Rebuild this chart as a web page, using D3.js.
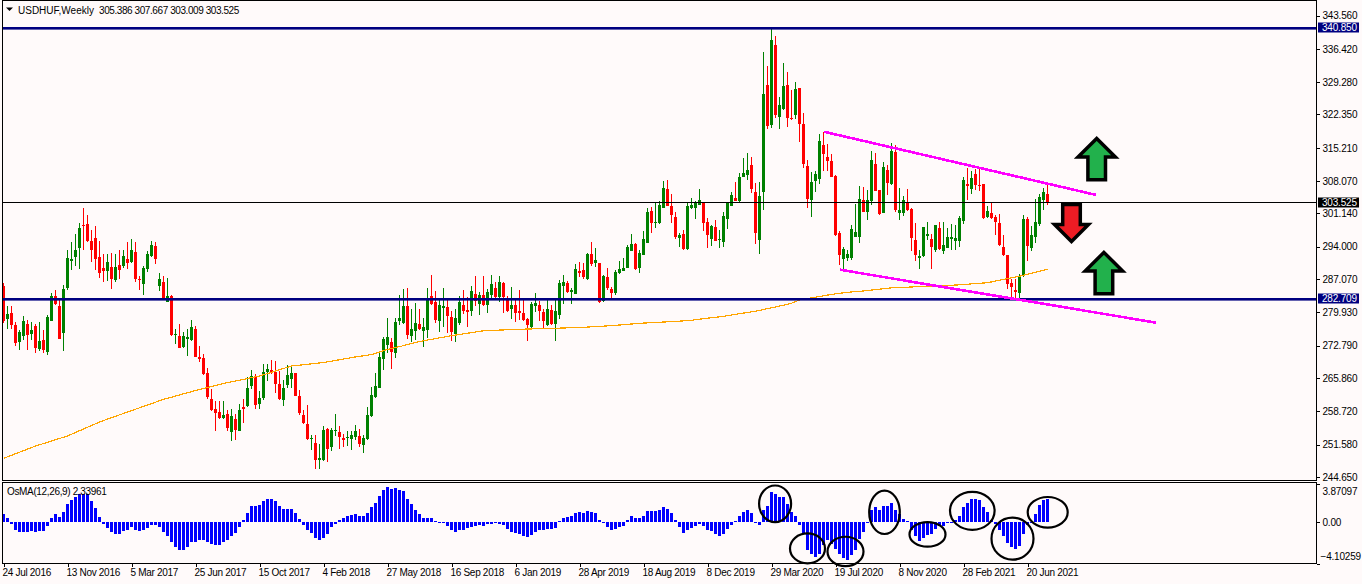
<!DOCTYPE html>
<html><head><meta charset="utf-8">
<script src="https://cdn.jsdelivr.net/npm/d3@7/dist/d3.min.js"></script>
<style>
html,body{margin:0;padding:0;background:#fffafa;overflow:hidden}
svg{display:block}
text{font-family:"Liberation Sans",sans-serif;font-size:10px;fill:#000}
</style></head><body>
<div id="chart"></div>
<script>
const symbolName = "USDHUF,Weekly";
const symbolValues = "305.386 307.667 303.009 303.525";
const osmaTitle = "OsMA(12,26,9) 2.33961";
const dateLabels = ["24 Jul 2016","13 Nov 2016","5 Mar 2017","25 Jun 2017","15 Oct 2017","4 Feb 2018","27 May 2018","16 Sep 2018","6 Jan 2019","28 Apr 2019","18 Aug 2019","8 Dec 2019","29 Mar 2020","19 Jul 2020","8 Nov 2020","28 Feb 2021","20 Jun 2021"];
const barsPerLabel = 16;
const priceTicks = [343.56,336.42,329.28,322.35,315.21,308.07,301.14,294,287.07,279.93,272.79,265.86,258.72,251.58,244.65];
const osmaTicks = [3.87097,0,-4.10259];
const levels = [340.85,282.709];
const lastPrice = 303.525;

const opens = [285.6,278.5,279.8,277.2,273.6,274.9,277.4,275.3,277.0,272.1,274.0,271.4,278.1,283.4,281.3,275.5,285.2,290.9,291.8,293.7,
298.7,298.9,295.2,295.9,291.8,289.4,288.8,289.7,286.9,290.1,289.9,291.4,290.7,292.9,287.1,286.0,289.2,292.0,294.2,285.6,
286.4,282.2,283.4,275.2,274.9,272.5,274.2,274.0,276.4,270.4,270.2,266.9,261.4,259.2,258.6,257.3,258.2,254.3,257.1,254.5,
259.7,259.9,264.2,266.3,260.3,261.6,267.2,267.6,267.2,264.6,261.2,264.4,265.7,266.9,262.0,257.9,256.0,252.8,251.9,248.3,
248.3,254.9,251.1,254.5,254.3,253.0,253.1,252.8,253.2,253.5,251.5,252.8,257.7,261.8,263.7,270.0,273.0,273.6,271.2,278.1,
277.7,281.3,274.9,276.0,277.4,276.0,276.2,283.5,282.2,278.1,280.9,281.1,279.0,275.3,277.7,281.5,280.5,280.2,283.9,281.7,
283.7,281.5,283.7,285.2,283.2,286.2,283.0,280.7,281.5,280.2,279.8,278.5,276.8,281.3,281.5,280.0,277.2,280.5,277.5,279.4,
285.6,286.2,284.3,283.9,288.8,289.0,287.1,292.5,290.5,290.5,282.4,287.5,285.0,284.1,288.4,288.8,289.4,293.1,294.6,289.4,
292.2,294.8,301.7,299.1,299.1,302.3,306.4,302.7,300.4,295.9,296.7,293.5,302.3,302.3,303.0,303.4,299.3,295.7,298.2,295.5,
295.0,300.0,302.7,304.5,303.8,309.0,309.4,311.5,305.7,295.5,305.7,328.7,320.1,337.2,321.8,323.5,328.7,321.6,322.2,328.0,
320.3,311.3,304.0,308.1,308.5,315.8,313.2,312.4,309.2,297.0,291.4,291.6,291.6,296.1,296.1,304.0,301.5,303.8,311.7,306.2,
301.2,310.5,307.5,314.3,301.2,301.2,303.6,302.1,295.5,291.6,292.0,296.3,295.7,293.3,298.0,293.1,293.7,295.7,295.2,295.2,
299.5,307.5,306.4,309.6,307.2,307.5,300.4,301.2,300.4,299.1,294.0,292.2,286.3,284.7,284.0,287.7,300.0,293.7,296.1,298.9,
304.0,305.386];
const highs = [286.2,281.3,281.3,277.9,276.2,279.2,278.3,277.8,277.4,277.9,276.2,279.4,284.2,284.7,282.6,285.8,293.3,295.0,296.7,299.1,
302.3,300.8,297.6,298.4,295.2,292.4,292.4,292.7,292.4,293.3,293.3,295.0,295.7,295.0,287.7,289.9,293.1,295.2,295.0,288.4,
287.7,287.3,283.7,276.4,277.4,275.7,276.4,278.3,277.0,272.7,271.0,268.0,263.5,260.9,260.9,260.9,259.0,259.2,258.2,260.3,
261.4,266.1,267.6,266.7,263.1,268.9,268.9,269.7,269.5,267.4,265.4,268.7,268.2,266.9,263.3,259.0,260.1,253.7,253.7,251.7,
255.6,255.2,255.2,258.2,255.6,253.9,254.5,254.5,255.8,255.0,253.7,259.7,264.0,267.0,271.5,274.6,278.7,274.4,278.7,283.7,
285.0,285.2,280.7,281.9,280.7,278.7,285.2,288.0,284.5,282.6,285.2,282.6,280.2,280.7,283.5,284.7,283.2,285.6,287.7,284.3,
287.7,285.0,288.0,286.5,287.7,286.5,283.5,285.4,283.0,284.7,282.6,278.7,282.2,284.1,282.4,280.7,282.6,281.5,282.6,286.9,
288.0,286.7,285.2,290.3,290.7,290.5,292.7,295.0,293.7,290.5,288.0,289.4,285.4,289.0,291.0,291.6,294.4,296.7,294.8,293.3,
297.4,302.3,302.5,303.6,303.8,308.1,308.3,305.3,301.5,297.0,297.6,303.6,304.5,303.8,306.4,303.6,300.2,298.7,299.7,297.6,
301.5,303.6,305.7,307.9,309.8,313.0,314.1,313.2,307.7,307.9,335.7,332.7,340.9,339.2,326.1,333.4,331.5,327.6,329.3,328.0,
322.7,312.6,310.0,310.2,318.2,318.5,316.0,313.9,309.4,297.4,294.0,293.3,298.7,303.2,307.0,306.8,306.2,314.5,314.1,306.2,
312.2,311.5,316.2,315.8,306.6,304.9,306.4,302.3,299.1,293.3,298.2,299.3,296.7,298.7,299.3,299.3,298.0,298.9,298.7,300.6,
309.0,310.9,310.2,310.7,310.7,307.5,302.7,303.6,300.8,301.0,296.5,292.2,287.2,287.1,288.2,300.8,300.3,298.5,304.2,305.3,
306.6,307.667];
const lows = [277.6,276.4,276.3,272.8,271.9,274.0,271.9,274.0,271.2,271.7,271.3,270.9,278.1,281.5,274.2,271.7,284.7,289.0,289.9,289.2,
293.3,295.0,290.7,289.0,287.3,286.4,286.7,284.9,286.4,287.1,289.4,289.2,290.5,286.4,284.7,283.7,288.6,291.8,290.3,284.5,
283.0,282.2,274.9,273.2,272.3,272.3,270.6,273.8,270.4,269.3,266.5,261.4,258.8,254.5,257.1,257.1,254.5,252.4,252.6,254.5,
256.2,259.7,263.5,259.2,259.2,261.2,265.2,266.7,262.7,261.2,259.9,263.7,263.7,262.0,257.9,256.0,252.6,250.4,246.4,246.4,
248.1,247.9,250.2,253.4,250.7,251.1,251.3,250.5,252.6,251.1,249.8,252.6,257.5,261.6,263.7,267.6,271.2,267.8,270.2,277.2,
277.5,274.2,273.6,274.0,276.2,272.5,274.4,281.5,277.7,275.7,276.8,275.5,273.8,273.6,277.2,279.6,276.8,279.2,281.3,279.4,
281.3,279.8,282.8,282.6,282.2,279.8,280.0,278.5,277.9,278.3,278.1,273.8,276.6,280.0,278.1,276.6,277.0,277.2,273.8,278.5,
281.7,284.0,281.7,283.9,287.5,287.1,286.9,289.9,289.7,281.9,282.2,284.7,283.0,283.7,288.2,288.8,289.4,293.1,289.0,288.4,
292.2,294.8,297.0,298.0,298.9,302.3,302.7,299.1,295.7,294.0,293.3,293.3,302.2,300.0,303.0,297.4,293.7,294.2,295.2,293.7,
293.9,297.8,302.7,303.8,303.6,309.0,308.3,305.5,294.6,292.5,301.9,319.2,319.5,321.6,319.2,323.3,319.7,321.2,321.4,316.5,
310.9,302.3,300.4,305.7,307.5,310.2,310.2,309.0,296.3,290.1,289.0,291.0,291.2,296.1,294.8,301.5,299.7,303.0,305.9,300.8,
301.2,305.1,307.2,301.5,299.7,300.6,301.7,293.1,291.0,289.2,291.8,295.5,289.2,292.9,293.3,292.5,293.7,293.3,293.3,293.9,
298.9,304.0,305.3,306.2,305.9,300.0,300.2,300.0,296.5,294.2,292.0,285.0,283.3,283.0,283.0,287.5,291.0,293.2,294.9,298.5,
301.9,303.009];
const closes = [278.1,279.7,277.2,273.4,275.7,278.1,275.1,276.2,272.3,273.8,271.9,278.9,283.4,281.7,274.2,284.9,291.6,291.4,293.3,298.0,
298.4,295.2,293.3,291.4,288.4,288.8,290.7,287.1,289.7,289.0,292.0,290.5,293.3,287.1,286.9,289.4,292.4,294.4,291.4,287.1,
283.0,283.4,275.1,275.3,272.3,274.9,274.7,276.8,270.4,270.0,266.7,261.8,259.0,258.4,257.3,257.9,255.2,257.7,254.7,259.0,
259.2,263.7,266.3,260.1,261.6,267.2,267.8,267.2,264.6,261.4,263.7,266.5,266.9,262.0,258.4,256.2,252.8,253.0,248.3,248.7,
254.7,250.7,254.7,254.7,253.2,252.6,253.2,253.7,254.5,251.7,253.0,258.0,262.2,264.2,270.4,274.2,274.7,271.5,277.9,278.7,
281.3,275.1,276.4,277.7,276.4,276.8,282.8,281.7,278.3,281.5,281.3,279.2,275.7,278.7,282.2,280.2,280.0,284.5,282.4,283.7,
281.5,284.3,286.0,283.2,286.5,283.2,280.2,281.5,279.8,279.8,278.3,277.2,281.7,282.0,280.2,278.1,280.7,277.5,280.2,286.2,
286.5,284.3,284.7,289.2,288.4,287.5,292.5,290.3,291.2,282.2,287.7,285.2,284.1,288.6,289.2,289.4,294.0,294.6,289.2,292.7,
295.7,301.4,299.1,299.3,303.0,306.6,302.7,300.8,296.1,296.5,293.5,302.7,303.0,303.6,304.0,299.1,296.5,298.5,295.2,295.7,
300.6,303.6,305.1,303.8,309.0,309.8,310.5,306.4,297.0,304.9,326.7,319.9,338.3,322.2,324.4,328.5,321.6,321.4,327.8,320.3,
311.7,304.2,307.9,309.6,316.7,313.9,312.4,309.0,296.5,292.2,293.5,292.4,297.8,297.2,304.2,301.5,304.0,312.6,305.9,301.0,
311.1,307.7,314.5,301.9,301.9,304.0,301.9,295.9,292.2,292.0,298.2,296.7,294.0,298.7,293.5,294.4,296.1,296.1,295.9,300.2,
308.3,307.0,308.7,307.2,307.0,300.2,301.7,300.2,299.3,294.4,292.2,286.0,285.4,284.3,287.5,300.0,294.2,296.5,299.3,304.7,
305.7,303.525];
const osmaValues = [.8,.4,-.2,-.8,-1,-1,-1,-.9,-1,-.9,-.9,-.4,.4,.8,.5,1,1.8,2.2,2.53,2.8,2.87,2.8,2.1,1.4,.5,-.2,-.6,-1,-1.2,-1.2,-.9,-.8,-.5,-.8,-.9,-.8,-.6,-.3,-.3,-.5,
-1,-1.4,-2,-2.5,-2.8,-2.8,-2.5,-2,-2,-1.8,-1.8,-2,-2.2,-2.3,-2.3,-2,-1.8,-1.4,-1.1,-.5,.2,.9,1.6,1.6,1.7,2.1,2.3,2.3,2.1,1.6,
1.3,1.3,1.3,.9,.3,-.3,-.8,-1.1,-1.6,-1.8,-1.6,-1.2,-.5,-.2,.2,.4,.6,.7,.8,.6,.6,.9,1.5,1.9,2.6,3.2,3.5,3.3,3.4,3.2,
3.1,2.3,1.8,1.2,.8,.4,.4,.4,.1,-.1,-.1,-.4,
-.8,-1,-.8,-.8,-.6,-.5,-.4,-.3,-.4,-.2,-.2,-.1,-.2,-.3,-.7,-1,-1.1,-1.2,-1.4,-1.5,-1.3,-1,-.8,-.8,-.7,-.7,-.6,.1,.4,.5,.6,.9,1,.9,1.1,1,.9,.2,-.1,-.5,
-.8,-.7,-.5,-.4,.2,.6,.4,.4,.6,1.1,1.1,1.1,1.2,1.5,1.3,.9,.2,-.5,-1.1,-.8,-.6,-.4,-.2,-.4,-.8,-.9,-1.2,-1.4,-1.2,-.7,-.3,.1,.6,1,1.2,.9,0,-.3,1.2,1.6,
3,2.8,2.5,2.5,1.8,1,.6,-.3,-1.1,-2.8,-3.2,-3.5,-3.2,-2.3,-1.8,-2.2,-2.7,-3.2,-3.6,-3.8,-3.3,-2.8,-1.7,-1,0,1.2,1.5,1.2,1.6,1.6,1.9,1.2,.87,
.3,.1,-.8,-1.4,-1.9,-1.6,-1.3,-1.2,-.7,-.4,-.4,0,.07,.2,.6,1.5,1.9,2.3,2.3,2.2,1.5,1,.2,-.2,-.8,-1.4,-2.1,-2.5,-2.7,-2.4,-1.2,-.3,0,.8,1.7,2.2,2.34];
const maBars = [0,8,16,24,32,40,48,56,64,72,80,84,88,92,96,99,104,112,120,128,136,144,152,159,163,168,172,176,180,184,188,193,197,199,203,207,211,214,222,230,238,246,254,261];
const maValues = [248.67,251.3,253.46,256.46,258.9,261.3,263.2,264.9,266.3,268.46,269.2,269.8,270.4,270.9,272.0,272.6,273.7,274.95,276.0,276.3,276.5,276.7,277.1,277.6,277.8,278.0,278.25,278.7,279.1,279.66,280.2,281.1,281.9,282.6,283.2,283.8,284.25,284.45,285.2,285.5,285.8,286.3,287.7,289.17];
const trendBars = [[205.1,273.2],[209.1,288.2]];
const trendValues = [[318.66,305.1],[289.09,277.74]];
const circles = [[192.9,1.85,16,18.3],[201,-2.6,17.5,15],[210.5,-2.9,18,14.7],[220.25,1,15.3,21.7],[231,-1.2,18,12.3],[242.2,1.15,22.3,19],[252.25,-1.63,21,21],[261.05,1,20,15.3]];
const upArrows = [[273.3,136],[275.1,250]];
const downArrows = [[267,244]];

const W=1362,H=584,left=2.5,right=1316.5,topM=1,botM=481,topO=483,botO=563;
const svg=d3.select("#chart").append("svg").attr("width",W).attr("height",H);
svg.append("rect").attr("width",W).attr("height",H).attr("fill","#fffafa");
const x=d3.scaleLinear().domain([0,261]).range([3.5,1047.5]);
const y=d3.scaleLinear().domain([244.65,343.56]).range([477.1,15.5]);
const yO=d3.scaleLinear().domain([-4.10259,3.87097]).range([563.5,483.5]);
const idx=d3.range(opens.length);
const px=v=>Math.round(v);

const g=svg.append("g").attr("clip-path","url(#c)");
svg.append("clipPath").attr("id","c").append("rect").attr("x",3).attr("y",topM+1).attr("width",right-3).attr("height",botM-topM-1);
// candles
const col=i=>closes[i]>=opens[i]?"#008000":"#FF0000";
const c=g.append("g").attr("shape-rendering","crispEdges");
c.selectAll(".w").data(idx).join("rect").attr("x",i=>Math.floor(x(i))).attr("width",1)
 .attr("y",i=>px(y(highs[i]))).attr("height",i=>Math.max(1,px(y(lows[i]))-px(y(highs[i])))).attr("fill",col);
c.selectAll(".b").data(idx).join("rect").attr("x",i=>Math.floor(x(i))-1).attr("width",3)
 .attr("y",i=>px(y(Math.max(opens[i],closes[i])))).attr("height",i=>Math.max(1,px(y(Math.min(opens[i],closes[i])))-px(y(Math.max(opens[i],closes[i]))))).attr("fill",col);
// MA
const maLine=d3.line().x((d,i)=>x(maBars[i])).y(d=>y(d));
g.append("path").attr("d",maLine(maValues)).attr("fill","none").attr("stroke","#FFA500").attr("stroke-width",1.2).attr("shape-rendering","crispEdges");
// level lines
g.selectAll(".lvl").data(levels).join("rect").attr("x",3).attr("width",right-3)
 .attr("y",d=>Math.floor(y(d))-1).attr("height",2.6).attr("fill","#000080");
g.append("rect").attr("x",3).attr("width",right-3).attr("y",Math.floor(y(lastPrice))).attr("height",1).attr("fill","#000");
// trend lines
trendBars.forEach((b,k)=>{
 g.append("line").attr("x1",x(b[0])).attr("x2",x(b[1])).attr("y1",y(trendValues[k][0])).attr("y2",y(trendValues[k][1]))
  .attr("stroke","#FF00FF").attr("stroke-width",2.6).attr("shape-rendering","crispEdges");
});
// arrows
const up="M0,0 L18.7,18.7 L8.8,18.7 L8.8,41.4 L-8.8,41.4 L-8.8,18.7 L-18.7,18.7 Z";
const down="M0,0 L17,17 L8.8,17 L8.8,37 L-8.8,37 L-8.8,17 L-17,17 Z";
const ag=svg.append("g").attr("stroke","#000").attr("stroke-width",3.5).attr("stroke-linejoin","miter").attr("stroke-miterlimit",10);
upArrows.forEach(a=>ag.append("path").attr("d",up).attr("transform",`translate(${x(a[0])},${a[1]+2.4})`).attr("fill","#22B14C"));
downArrows.forEach(a=>ag.append("path").attr("d",down).attr("transform",`translate(${x(a[0])},${a[1]-2.4}) scale(1,-1)`).attr("fill","#ED1C24"));

// OsMA
const o=svg.append("g").attr("shape-rendering","crispEdges");
o.selectAll("rect").data(osmaValues).join("rect").attr("x",(d,i)=>Math.floor(x(i))-1).attr("width",3)
 .attr("y",d=>px(Math.min(yO(d),yO(0)))).attr("height",d=>Math.max(1,Math.abs(px(yO(d))-px(yO(0))))).attr("fill","#0000FF");
svg.append("g").selectAll("ellipse").data(circles).join("ellipse")
 .attr("cx",d=>x(d[0])).attr("cy",d=>yO(d[1])).attr("rx",d=>d[2]).attr("ry",d=>d[3])
 .attr("fill","none").attr("stroke","#000").attr("stroke-width",2.2);

// frames
const fr=svg.append("g").attr("fill","none").attr("stroke","#000").attr("shape-rendering","crispEdges");
fr.append("rect").attr("x",2.5).attr("y",.5).attr("width",right-2.5).attr("height",480);
fr.append("rect").attr("x",2.5).attr("y",482.5).attr("width",right-2.5).attr("height",81);

// axes
const ay=d3.axisRight(y).tickValues(priceTicks).tickFormat(d3.format(".3f")).tickSize(3).tickPadding(3);
const gy=svg.append("g").attr("transform",`translate(${right},0)`).call(ay);
const ao=d3.axisRight(yO).tickValues(osmaTicks).tickFormat(d=>d===0?"0.00":d3.format(".5f")(d)).tickSize(3).tickPadding(3);
const go=svg.append("g").attr("transform",`translate(${right},0)`).call(ao);
go.selectAll("text").attr("dy",d=>d>1?"1.05em":d<-1?"-0.4em":"0.32em").attr("dx",d=>d<-1?-2:0);
const ax=d3.axisBottom(x).tickValues(dateLabels.map((d,i)=>i*barsPerLabel)).tickFormat((d,i)=>dateLabels[i]).tickSize(3).tickPadding(2);
const gx=svg.append("g").attr("transform",`translate(0,${botO+.5})`).call(ax);
gx.selectAll("text").attr("text-anchor","start").attr("dx",-1.5).style("letter-spacing","-0.3px");
gy.selectAll("text").style("letter-spacing","-0.2px");
go.selectAll("text").style("letter-spacing","-0.2px");
[gy,go,gx].forEach(a=>{a.select(".domain").remove();a.selectAll("line").attr("stroke","#000").attr("shape-rendering","crispEdges");a.attr("font-family",null).attr("font-size",null);a.selectAll("text").attr("fill","#000");});

// price tags
const tags=svg.append("g");
[[levels[0],"#000080"],[levels[1],"#000080"],[lastPrice,"#000"]].forEach(t=>{
 const cy=Math.floor(y(t[0]))-(t[1]==="#000"?0:1)+.5;
 tags.append("rect").attr("x",1318).attr("width",41).attr("y",cy-5).attr("height",10).attr("fill",t[1]);
 tags.append("text").attr("x",1322).attr("y",cy+3.5).style("fill","#fff").style("letter-spacing","-0.2px").text(d3.format(".3f")(t[0]));
});

// titles
svg.append("path").attr("d","M6,7.5 L13,7.5 L9.5,11 Z").attr("fill","#000");
svg.append("text").attr("x",18).attr("y",13.5).text(symbolName);
svg.append("text").attr("x",99).attr("y",13.5).style("letter-spacing","-0.42px").text(symbolValues);
svg.append("text").attr("x",7).attr("y",495).style("letter-spacing","-0.35px").text(osmaTitle);
</script>
</body></html>
